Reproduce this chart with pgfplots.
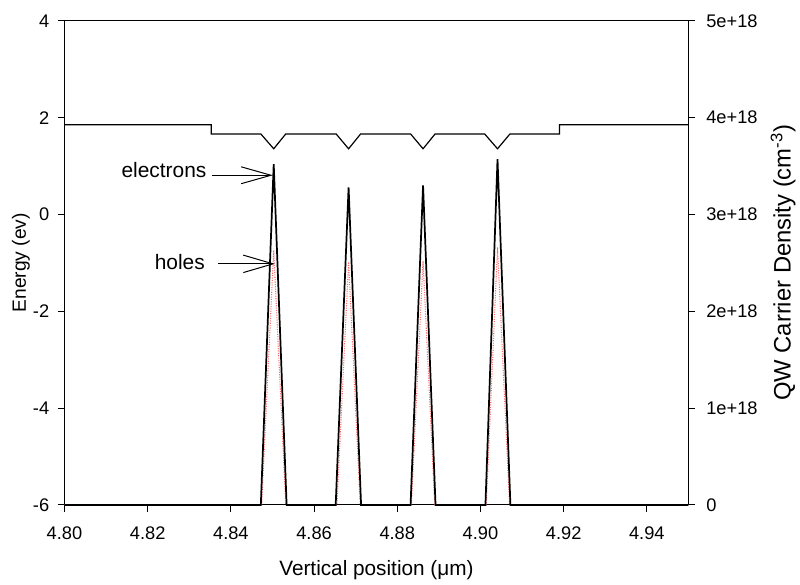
\documentclass[border=0pt]{standalone}
\usepackage{fontspec}
\setmainfont{Liberation Sans}
\usepackage{pgfplots}
\pgfplotsset{compat=1.18}
\usetikzlibrary{arrows.meta}
\begin{document}
\begin{tikzpicture}
\pgfplotsset{
  every axis/.append style={
    scale only axis, width=471.75pt, height=366pt,
    xmin=4.80, xmax=4.95,
    tick align=outside, major tick length=5pt,
    every tick/.style={black, line width=0.75pt},
    axis line style={line width=0.75pt},
    /pgf/number format/assume math mode=true,
    tick label style={font=\fontsize{13.8}{15}\selectfont},
  }
}
\begin{axis}[
  at={(0,0)}, anchor=south west,
  ymin=-6, ymax=4, ytick={-6,-4,-2,0,2,4},
  xtick={4.80,4.82,4.84,4.86,4.88,4.90,4.92,4.94},
  xticklabel style={yshift=-8pt, /pgf/number format/.cd, fixed, fixed zerofill, precision=2},
  yticklabel style={xshift=-3pt},
  xtick pos=bottom, ytick pos=left,
  xlabel={Vertical position (μm)},
  xlabel style={font=\fontsize{15.7}{18}\selectfont, at={(axis description cs:0.5,-0.1455)}, anchor=base},
  ylabel={Energy (ev)},
  ylabel style={font=\fontsize{14.5}{16}\selectfont, at={(axis description cs:-0.062,0.5)}, anchor=base},
]
\addplot[black, line width=0.9pt] coordinates {
 (4.8000,1.855) (4.8353,1.855) (4.8353,1.664) (4.8472,1.664) (4.8503,1.357) (4.8532,1.664)
 (4.8653,1.664) (4.8683,1.357) (4.8712,1.664) (4.8832,1.664) (4.8862,1.357) (4.8891,1.664)
 (4.9010,1.664) (4.9041,1.357) (4.9071,1.664) (4.9190,1.664) (4.9190,1.855) (4.9500,1.855)
};
\end{axis}
\begin{axis}[
  at={(0,0)}, anchor=south west,
  ymin=0, ymax=5, ytick={0,1,2,3,4,5},
  yticklabels={0,1e+18,2e+18,3e+18,4e+18,5e+18},
  yticklabel style={xshift=5pt},
  axis x line=none, axis y line*=right,
  ylabel={QW Carrier Density (cm\textsuperscript{-3})},
  ylabel style={font=\fontsize{18}{20}\selectfont, at={(axis description cs:1.1638,0.5)}, anchor=base},
  clip=false,
]
\addplot[red!60, densely dotted, line width=0.8pt] coordinates {
 (4.8000,0) (4.8474,0) (4.8503,2.63) (4.8532,0)
 (4.8655,0) (4.8683,2.51) (4.8711,0)
 (4.8834,0) (4.8862,2.52) (4.8890,0)
 (4.9014,0) (4.9041,2.66) (4.9070,0) (4.9500,0)
};
\addplot[black, line width=1.3pt] coordinates {
 (4.8000,0) (4.8472,0) (4.8503,3.52) (4.8534,0)
 (4.8652,0) (4.8683,3.28) (4.8713,0)
 (4.8832,0) (4.8862,3.30) (4.8892,0)
 (4.9012,0) (4.9041,3.57) (4.9072,0) (4.9500,0)
};
\draw[line width=0.75pt, -{Straight Barb[length=22.5pt,width=12.75pt,line width=0.75pt]}] (axis cs:4.83537,3.405) -- (axis cs:4.85008,3.405);
\draw[line width=0.75pt, -{Straight Barb[length=22.5pt,width=13.2pt,line width=0.75pt]}] (axis cs:4.83696,2.490) -- (axis cs:4.85056,2.490);
\node[anchor=base east, inner sep=0pt, font=\fontsize{15.8}{18}\selectfont] at (axis cs:4.83417,3.385) {electrons};
\node[anchor=base east, inner sep=0pt, font=\fontsize{15.8}{18}\selectfont] at (axis cs:4.83379,2.431) {holes};
\end{axis}
\path[use as bounding box] (-48.75pt,-57.75pt) rectangle (551.25pt,381.75pt);
\end{tikzpicture}
\end{document}
